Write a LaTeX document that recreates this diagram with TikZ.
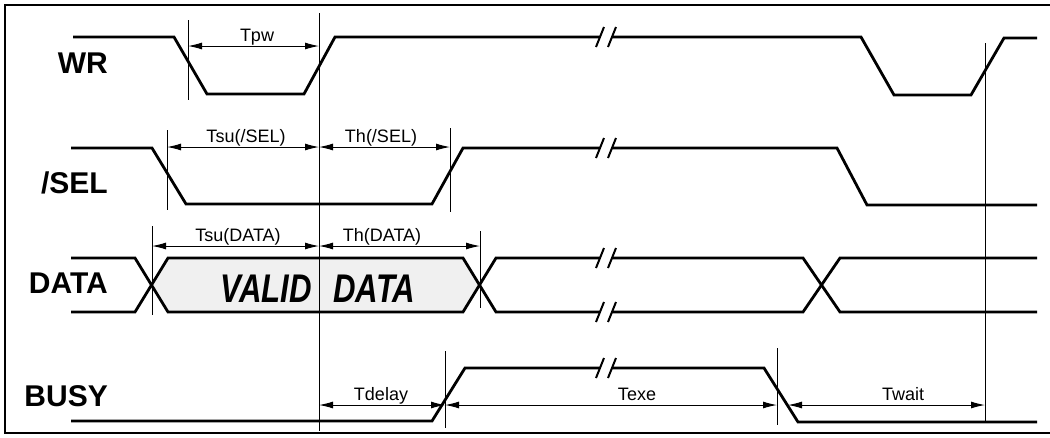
\documentclass[tikz,border=0pt]{standalone}
\usepackage{fontspec}
\setmainfont{Liberation Sans}
\newfontfamily\narrowfont[FakeStretch=0.78]{Liberation Sans}
\usetikzlibrary{arrows.meta}
\newcommand{\sigbreak}[1]{%
  \begin{scope}[shift={#1}]
    \fill[white] (-1.2,3) -- (1.2,-3) -- (13.2,-3) -- (10.8,3) -- cycle;
    \draw[line width=2pt] (-4,10) -- (4,-10) (8,10) -- (16,-10);
  \end{scope}}

\begin{document}
\begin{tikzpicture}[x=1pt, y=-1pt, >={Latex[length=14pt,width=7pt]}, sig/.style={line width=2.8pt}, guide/.style={line width=1pt}, dim/.style={<->, line width=1pt}, signame/.style={anchor=base east, inner sep=0pt, font=\fontsize{30}{30}\selectfont\bfseries}, lbl/.style={anchor=base, inner sep=0pt, font=\fontsize{18}{18}\selectfont}]
\useasboundingbox (0,0) rectangle (1050,437);
\draw[line width=1.5pt] (1050,5) -- (5,5) -- (5,433) -- (1050,433);
\node[signame] (wr) at (108,73) {WR};
\node[signame] (sel) at (108,193) {/SEL};
\node[signame] (data) at (108,293) {DATA};
\node[signame] (busy) at (108,406) {BUSY};
\fill[gray!12] (152,285) -- (168,258) -- (463,258) -- (480,285) -- (463,312) -- (168,312) -- cycle;
\node[anchor=base, inner sep=0pt, font=\narrowfont\fontsize{40}{40}\selectfont\bfseries\itshape] (valid) at (318,302) {VALID \hspace{13pt}DATA};
\draw[sig] (73,37) -- (174,37) -- (207,94) -- (304,94) -- (335,37) -- (861,37) -- (894,95) -- (971,95) -- (1004,38) -- (1037,38);
\draw[sig] (71,148) -- (152,148) -- (186,204) -- (432,204) -- (463,148) -- (837,148) -- (867,205) -- (1037,205);
\draw[sig] (71,258) -- (135,258) -- (168,312) -- (463,312) -- (496,258) -- (803,258) -- (840,312) -- (1037,312);
\draw[sig] (71,312) -- (135,312) -- (168,258) -- (463,258) -- (496,312) -- (803,312) -- (840,258) -- (1037,258);
\draw[sig] (71,421) -- (432,421) -- (465,368) -- (764,368) -- (798,422) -- (1037,422);
\foreach \y in {37,148,258,312,368} \sigbreak{(600,\y)};
\draw[guide] (188,20) -- (188,100);
\draw[guide] (319,13) -- (319,431);
\draw[guide] (167,130) -- (167,210);
\draw[guide] (450,128) -- (450,212);
\draw[guide] (152,226) -- (152,315);
\draw[guide] (480,231) -- (480,308);
\draw[guide] (445,351) -- (445,428);
\draw[guide] (777,348) -- (777,425);
\draw[guide] (985,43) -- (985,421);
\coordinate (pwa) at (188,46);
\coordinate (pwb) at (319,46);
\coordinate (sela) at (167,147);
\coordinate (selb) at (319,147);
\coordinate (selc) at (450,147);
\coordinate (data) at (152,246);
\coordinate (datb) at (319,246);
\coordinate (datc) at (480,246);
\coordinate (bsya) at (319,405);
\coordinate (bsyb) at (445,405);
\coordinate (bsyc) at (777,405);
\coordinate (bsyd) at (788,405);
\coordinate (bsye) at (985,405);
\draw[dim] (pwa) -- (pwb);
\draw[dim] (sela) -- (selb);
\draw[dim] (selb) -- (selc);
\draw[dim] (data) -- (datb);
\draw[dim] (datb) -- (datc);
\draw[dim] (bsya) -- (bsyb);
\draw[dim] (bsyb) -- (bsyc);
\draw[dim] (bsyd) -- (bsye);
\node[lbl] (tpw) at (257,41) {Tpw};
\node[lbl] (tsusel) at (246,142) {Tsu(/SEL)};
\node[lbl] (thsel) at (381,142) {Th(/SEL)};
\node[lbl] (tsudata) at (238,241) {Tsu(DATA)};
\node[lbl] (thdata) at (382,241) {Th(DATA)};
\node[lbl] (tdelay) at (381,400) {Tdelay};
\node[lbl] (texe) at (637,400) {Texe};
\node[lbl] (twait) at (903,400) {Twait};
\end{tikzpicture}
\end{document}
